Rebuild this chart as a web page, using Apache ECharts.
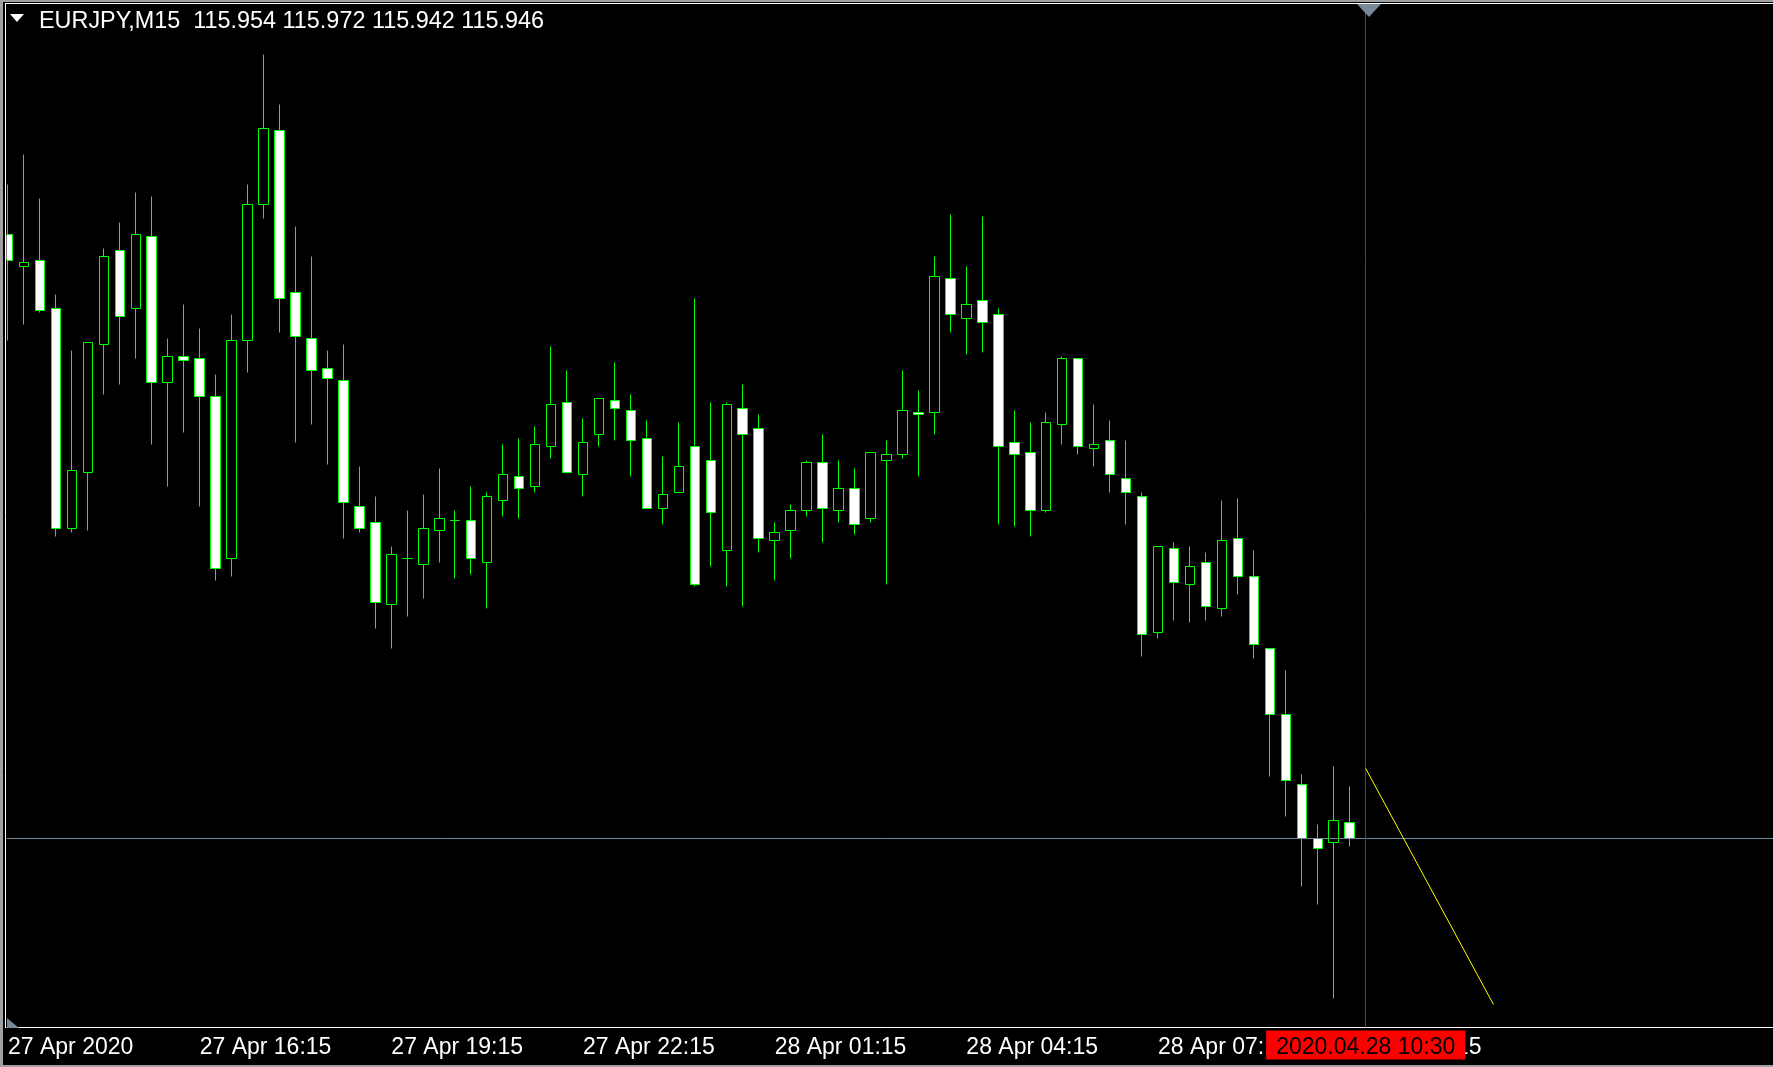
<!DOCTYPE html>
<html>
<head>
<meta charset="utf-8">
<title>EURJPY,M15</title>
<script src="https://cdn.jsdelivr.net/npm/echarts@6/dist/echarts.min.js"></script>
<style>
  html, body { margin: 0; padding: 0; background: #000; }
  #chart { width: 1773px; height: 1067px; }
</style>
</head>
<body>
<div id="chart"></div>
<script>
// EURJPY M15, bars from 27 Apr 2020 13:15 to 28 Apr 2020 10:15
const symbolName = 'EURJPY,M15'
const firstDay = 27
const firstMinute = 13 * 60 + 15
const barMinutes = 15
const barSlots = 111   // bars that fit across the window, incl. empty space on the right

const open = [
  116.248, 116.232, 116.235, 116.211, 116.101, 116.129, 116.193, 116.240, 116.211, 116.247,
  116.174, 116.187, 116.186, 116.167, 116.086, 116.195, 116.263, 116.300, 116.219, 116.196,
  116.181, 116.175, 116.112, 116.104, 116.063, 116.086, 116.083, 116.100, 116.105, 116.105,
  116.084, 116.115, 116.127, 116.122, 116.142, 116.164, 116.128, 116.148, 116.165, 116.160,
  116.146, 116.111, 116.119, 116.142, 116.135, 116.090, 116.161, 116.151, 116.095, 116.100,
  116.110, 116.134, 116.110, 116.121, 116.106, 116.135, 116.138, 116.159, 116.159, 116.226,
  116.206, 116.215, 116.208, 116.144, 116.139, 116.110, 116.153, 116.186, 116.141, 116.145,
  116.126, 116.117, 116.049, 116.091, 116.073, 116.084, 116.061, 116.096, 116.077, 116.041,
  116.008, 115.973, 115.946, 115.944, 115.954
]
const high = [
  116.273, 116.288, 116.266, 116.218, 116.190, 116.194, 116.241, 116.254, 116.269, 116.267,
  116.196, 116.213, 116.201, 116.178, 116.208, 116.273, 116.338, 116.313, 116.252, 116.237,
  116.190, 116.193, 116.132, 116.117, 116.092, 116.110, 116.118, 116.131, 116.110, 116.122,
  116.119, 116.143, 116.146, 116.152, 116.192, 116.180, 116.156, 116.166, 116.184, 116.168,
  116.155, 116.137, 116.154, 116.216, 116.164, 116.164, 116.173, 116.158, 116.104, 116.113,
  116.135, 116.148, 116.135, 116.131, 116.139, 116.145, 116.180, 116.170, 116.237, 116.258,
  116.232, 116.257, 116.211, 116.160, 116.154, 116.159, 116.187, 116.186, 116.163, 116.155,
  116.145, 116.119, 116.092, 116.094, 116.092, 116.089, 116.115, 116.116, 116.090, 116.041,
  116.030, 115.978, 115.953, 115.982, 115.972
]
const low = [
  116.195, 116.203, 116.209, 116.097, 116.099, 116.100, 116.168, 116.173, 116.186, 116.143,
  116.122, 116.149, 116.112, 116.075, 116.077, 116.179, 116.256, 116.199, 116.144, 116.153,
  116.133, 116.096, 116.099, 116.051, 116.041, 116.057, 116.066, 116.084, 116.076, 116.078,
  116.061, 116.107, 116.106, 116.119, 116.136, 116.129, 116.117, 116.142, 116.145, 116.127,
  116.111, 116.103, 116.119, 116.072, 116.082, 116.072, 116.062, 116.089, 116.075, 116.086,
  116.107, 116.094, 116.104, 116.098, 116.104, 116.073, 116.136, 116.127, 116.148, 116.199,
  116.188, 116.189, 116.103, 116.102, 116.097, 116.109, 116.143, 116.138, 116.132, 116.119,
  116.103, 116.037, 116.046, 116.055, 116.054, 116.055, 116.057, 116.068, 116.036, 115.977,
  115.957, 115.922, 115.913, 115.866, 115.942
]
const close = [
  116.235, 116.234, 116.210, 116.101, 116.130, 116.194, 116.237, 116.207, 116.248, 116.174,
  116.187, 116.185, 116.167, 116.081, 116.195, 116.263, 116.301, 116.216, 116.197, 116.180,
  116.176, 116.114, 116.101, 116.064, 116.088, 116.086, 116.101, 116.106, 116.105, 116.086,
  116.117, 116.128, 116.121, 116.143, 116.163, 116.129, 116.144, 116.166, 116.161, 116.145,
  116.111, 116.118, 116.132, 116.073, 116.109, 116.163, 116.148, 116.096, 116.099, 116.110,
  116.134, 116.111, 116.121, 116.103, 116.139, 116.138, 116.160, 116.158, 116.227, 116.208,
  116.213, 116.204, 116.142, 116.138, 116.110, 116.154, 116.186, 116.142, 116.143, 116.128,
  116.119, 116.048, 116.092, 116.074, 116.082, 116.062, 116.095, 116.077, 116.043, 116.008,
  115.975, 115.946, 115.941, 115.955, 115.946
]

const tickEvery = 12
const tickLabels = ['27 Apr 2020', '27 Apr 16:15', '27 Apr 19:15', '27 Apr 22:15',
  '28 Apr 01:15', '28 Apr 04:15', '28 Apr 07:15', '28 Apr 10:15']

const priceMin = 115.8515
const priceMax = 116.3635
const bidPrice = 115.946
const vlineBar = 85
const vlineLabel = '2020.04.28 10:30'
const trendStart = [85, 115.981]
const trendEnd = [93, 115.863]

function pad(n) { return n < 10 ? '0' + n : '' + n }

let times = []
for (let i = 0; i < barSlots; i++) {
  let m = firstMinute + i * barMinutes
  let day = firstDay + Math.floor(m / 1440)
  m = m % 1440
  times.push('2020.04.' + day + ' ' + pad(Math.floor(m / 60)) + ':' + pad(m % 60))
}

let candles = open.map((o, i) => [o, close[i], low[i], high[i]])
let last = open.length - 1
let header = symbolName + '  ' + [open[last], high[last], low[last], close[last]].map(v => v.toFixed(3)).join(' ')

let showTick = (index) => index % tickEvery === 0 && index / tickEvery < tickLabels.length
let font = 'Liberation Sans'

let myChart = echarts.init(document.getElementById('chart'))
myChart.setOption({
  backgroundColor: '#000000',
  animation: false,
  title: {
    text: header,
    left: 39,
    top: 10,
    padding: 0,
    textStyle: { color: '#ffffff', fontSize: 23.4, fontWeight: 'normal', fontFamily: font }
  },
  grid: { left: -0.5, right: -2.5, top: 3.5, bottom: 39.5 },
  xAxis: {
    type: 'category',
    data: times,
    boundaryGap: true,
    axisLine: { lineStyle: { color: '#ffffff', width: 1 } },
    axisTick: { interval: showTick, alignWithLabel: true, length: 4, lineStyle: { color: '#ffffff' } },
    axisLabel: {
      interval: showTick,
      formatter: (value, index) => tickLabels[index / tickEvery],
      color: '#ffffff',
      fontSize: 23,
      fontFamily: font,
      align: 'left',
      margin: 9
    },
    splitLine: { show: false }
  },
  yAxis: {
    type: 'value',
    min: priceMin,
    max: priceMax,
    show: false,
    splitLine: { show: false }
  },
  series: [
    {
      // bid line, kept behind the candles
      type: 'line',
      data: [],
      silent: true,
      markLine: {
        silent: true,
        precision: 4,
        symbol: ['none', 'none'],
        animation: false,
        label: { show: false },
        lineStyle: { color: '#778899', width: 1, type: 'solid' },
        data: [{ yAxis: bidPrice }]
      }
    },
    {
      type: 'candlestick',
      data: candles,
      barWidth: 10,
      clip: false,
      itemStyle: {
        color: '#000000',
        color0: '#ffffff',
        borderColor: '#00ff00',
        borderColor0: '#00ff00',
        borderColorDoji: '#00ff00',
        borderWidth: 1
      },
      markLine: {
        silent: true,
        precision: 4,
        symbol: ['none', 'none'],
        animation: false,
        data: [
          {
            xAxis: vlineBar,
            lineStyle: { color: '#ff0000', width: 1, type: 'solid' },
            label: {
              show: true,
              position: 'start',
              distance: 3,
              formatter: vlineLabel,
              color: '#000000',
              backgroundColor: '#ff0000',
              padding: [6, 10, 0, 10],
              fontSize: 23,
              fontFamily: font
            }
          },
          [
            { coord: trendStart, lineStyle: { color: '#ffff00', width: 1, type: 'solid' }, label: { show: false } },
            { coord: trendEnd }
          ]
        ]
      }
    }
  ],
  graphic: [
    { type: 'rect', z: 100, shape: { x: 0, y: 0, width: 6.5, height: 1028 }, style: { fill: '#000000' } },
    { type: 'rect', z: 101, shape: { x: 0, y: 0, width: 3, height: 1067 }, style: { fill: '#a0a0a0' } },
    { type: 'rect', z: 101, shape: { x: 0, y: 0, width: 1773, height: 2 }, style: { fill: '#a0a0a0' } },
    { type: 'rect', z: 101, shape: { x: 0, y: 1065, width: 1773, height: 2 }, style: { fill: '#a0a0a0' } },
    { type: 'line', z: 102, shape: { x1: 5.5, y1: 3, x2: 5.5, y2: 1028 }, style: { stroke: '#ffffff', lineWidth: 1 } },
    { type: 'line', z: 102, shape: { x1: 5, y1: 3.5, x2: 1773, y2: 3.5 }, style: { stroke: '#ffffff', lineWidth: 1 } },
    { type: 'polygon', z: 103, shape: { points: [[10, 14], [24, 14], [17, 22]] }, style: { fill: '#ffffff' } },
    { type: 'polygon', z: 103, shape: { points: [[1357, 4], [1381, 4], [1369, 17]] }, style: { fill: '#778899' } },
    { type: 'polygon', z: 103, shape: { points: [[7, 1018], [7, 1028], [19, 1028]] }, style: { fill: '#778899' } }
  ]
})
</script>
</body>
</html>
